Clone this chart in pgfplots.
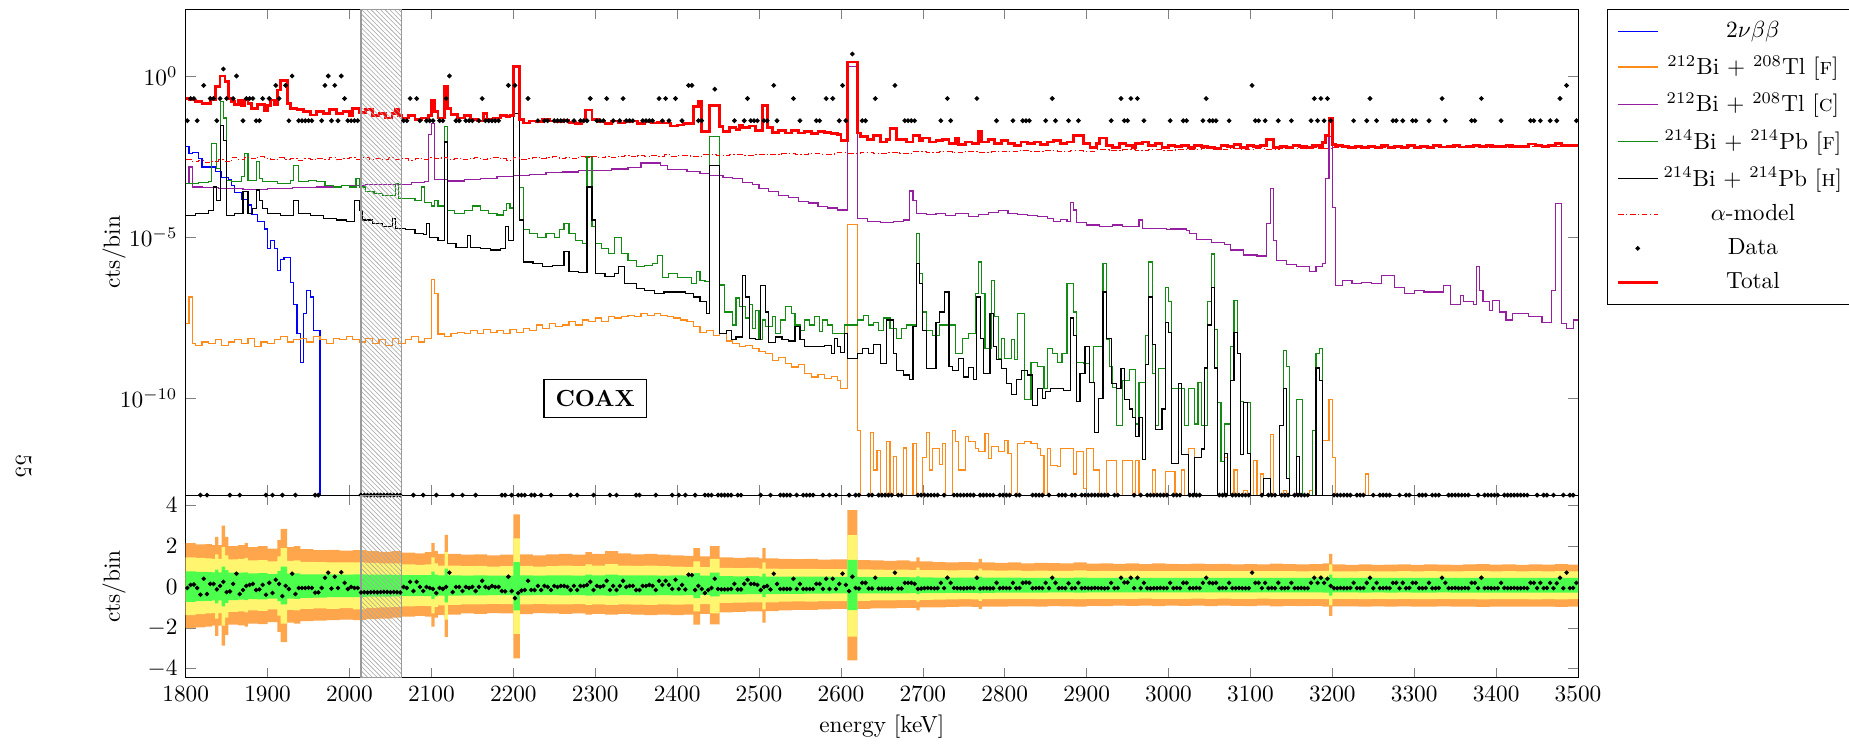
\documentclass[border=0pt]{standalone}
\usepackage{pgfplots}
\usepackage{pgfplotstable}
\pgfplotsset{compat=1.18}
\usetikzlibrary{patterns}
\definecolor{cblue}{RGB}{0,0,255}
\definecolor{corange}{RGB}{255,140,26}
\definecolor{cpurple}{RGB}{150,30,160}
\definecolor{cgreen}{RGB}{20,140,20}
\definecolor{bandO}{RGB}{255,166,77}
\definecolor{bandY}{RGB}{255,245,110}
\definecolor{bandG}{RGB}{77,255,77}
\pgfdeclarepatternformonly{densenw}{\pgfqpoint{-1pt}{-1pt}}{\pgfqpoint{3pt}{3pt}}{\pgfqpoint{2pt}{2pt}}{%
  \pgfsetlinewidth{0.25pt}%
  \pgfpathmoveto{\pgfqpoint{0pt}{2pt}}%
  \pgfpathlineto{\pgfqpoint{2.1pt}{-0.1pt}}%
  \pgfusepath{stroke}}

\pgfplotstableread[row sep=\\]{
x d r\\
1802 .041 -.05\\1806 .2 .1\\1810 .2 .12\\1814 .041 -.05\\1818 1e-13 -.38\\1822 .51 .4\\1826 1e-13 -.35\\1830 .2 .15\\1834 .2 .15\\1838 .041 -.12\\1842 .2 .05\\1846 1.65 .25\\1850 .2 -.25\\1854 1e-13 -.22\\1858 .2 .15\\1862 1 .65\\1866 1e-13 -.35\\1870 .041 -.15\\1874 .2 .05\\1878 .2 .1\\1882 .2 .15\\1886 .041 -.15\\1890 .041 -.12\\1894 .2 .1\\1898 1e-13 -.38\\
1902 .2 .2\\1906 1e-13 -.3\\1910 .51 .35\\1914 .2 .15\\1918 1e-13 -.45\\1922 .51 .05\\1926 .041 -.1\\1930 1 .65\\1934 1e-13 -.35\\1938 .041 -.05\\1942 .041 -.05\\1946 .041 -.05\\1950 .041 -.04\\1954 .041 -.05\\1958 1e-13 -.28\\1962 1e-13 -.27\\1966 .041 -.05\\1970 .51 .45\\1974 1 .7\\1978 .041 -.08\\1982 .51 .5\\1986 .041 -.05\\1990 1 .72\\1994 .2 .2\\1998 .041 -.1\\
2002 .041 0\\2006 .041 -.05\\2010 .041 -.05\\2014 1e-13 -.27\\2018 1e-13 -.26\\2022 1e-13 -.27\\2026 1e-13 -.26\\2030 1e-13 -.25\\2034 1e-13 -.26\\2038 1e-13 -.25\\2042 1e-13 -.24\\2046 1e-13 -.25\\2050 1e-13 -.26\\2054 1e-13 -.25\\2058 1e-13 -.26\\2062 1e-13 -.27\\2066 .041 0\\2070 .041 -.05\\2074 .2 .25\\2078 1e-13 -.2\\2082 .2 .25\\2086 .041 0\\2090 1e-13 -.2\\2094 .041 0\\2098 .041 -.05\\
2102 .041 -.1\\2106 1e-13 -.3\\2110 .041 -.05\\2114 .041 -.1\\2118 .2 0\\2122 1 .7\\2126 1e-13 -.25\\2130 .041 0\\2134 .041 0\\2138 1e-13 -.2\\2142 .041 0\\2146 .041 -.05\\2150 .041 0\\2154 1e-13 -.2\\2158 .041 0\\2162 .2 .3\\2166 .041 0\\2170 .041 -.05\\2174 .041 .05\\2178 .041 0\\2182 .041 0\\2186 1e-13 -.2\\2190 1e-13 -.22\\2194 .51 .5\\2198 1e-13 -.2\\
2202 .51 -.55\\2206 1e-13 -.3\\2210 1e-13 -.18\\2214 1e-13 -.15\\2218 .2 .3\\2222 1e-13 -.15\\2226 1e-13 -.15\\2230 .041 .05\\2234 1e-13 -.15\\2238 .041 .05\\2242 .041 0\\2246 1e-13 -.15\\2250 .041 .05\\2254 .041 0\\2258 .041 .05\\2262 .041 .05\\2266 .041 0\\2270 1e-13 -.15\\2274 .041 .05\\2278 1e-13 -.15\\2282 .041 .05\\2286 .041 .05\\2290 .041 .1\\2294 .2 .25\\2298 1e-13 -.15\\
2302 .041 .05\\2306 .041 0\\2310 .041 .05\\2314 .2 .3\\2318 1e-13 -.15\\2322 .041 .05\\2326 1e-13 -.15\\2330 .041 .05\\2334 .2 .3\\2338 .041 0\\2342 .041 .05\\2346 .041 .05\\2350 1e-13 -.15\\2354 1e-13 -.15\\2358 .041 .05\\2362 .041 .05\\2366 .041 .1\\2370 .041 .05\\2374 1e-13 -.15\\2378 .2 .3\\2382 .041 .1\\2386 .2 .3\\2390 .041 .1\\2394 1e-13 -.1\\2398 .2 .35\\
2402 1e-13 -.1\\2406 .041 .1\\2410 1e-13 -.12\\2414 .51 .6\\2418 .51 .58\\2422 1e-13 -.15\\2426 .041 .05\\2430 .041 -.1\\2434 1e-13 -.3\\2438 1e-13 -.15\\2442 1e-13 -.05\\2446 .39 .4\\2450 1e-13 -.1\\2454 1e-13 -.12\\2458 1e-13 -.12\\2462 1e-13 -.12\\2466 1e-13 -.1\\2470 .041 .15\\2474 1e-13 -.12\\2478 1e-13 -.12\\2482 .041 .15\\2486 .2 .35\\2490 .041 .15\\2494 .041 .15\\2498 .041 .1\\
2502 1e-13 -.15\\2506 .041 0\\2510 .041 .05\\2514 1e-13 -.12\\2518 .51 .65\\2522 .041 .15\\2526 1e-13 -.1\\2530 1e-13 -.1\\2534 1e-13 -.1\\2538 1e-13 -.1\\2542 .2 .4\\2546 1e-13 -.1\\2550 .041 .15\\2554 1e-13 -.1\\2558 1e-13 -.1\\2562 1e-13 -.1\\2566 1e-13 -.1\\2570 .041 .15\\2574 .041 .15\\2578 1e-13 -.1\\2582 .2 .4\\2586 1e-13 -.1\\2590 .2 .4\\2594 1e-13 -.1\\2598 .041 .15\\
2602 .51 .65\\2606 .041 .1\\2610 1e-13 -.2\\2614 4.8 .5\\2618 1e-13 -.05\\2622 1e-13 -.08\\2626 .041 .2\\2630 .041 .2\\2634 1e-13 -.08\\2638 1e-13 -.08\\2642 .2 .45\\2646 1e-13 -.08\\2650 1e-13 -.08\\2654 1e-13 -.08\\2658 1e-13 -.08\\2662 1e-13 -.08\\2666 .51 .7\\2670 1e-13 -.08\\2674 1e-13 -.08\\2678 .041 .2\\2682 .041 .2\\2686 .041 .2\\2690 .041 .15\\2694 1e-13 -.1\\2698 1e-13 -.08\\
2702 1e-13 -.06\\2706 1e-13 -.05\\2710 1e-13 -.06\\2714 1e-13 -.07\\2718 1e-13 -.06\\2722 .041 .2\\2726 1e-13 -.06\\2730 .2 .45\\2734 .041 .2\\2738 1e-13 -.05\\2742 1e-13 -.06\\2746 1e-13 -.06\\2750 1e-13 -.07\\2754 1e-13 -.06\\2758 1e-13 -.05\\2762 1e-13 -.06\\2766 .2 .45\\2770 1e-13 -.08\\2774 1e-13 -.06\\2778 1e-13 -.06\\2782 1e-13 -.07\\2786 1e-13 -.06\\2790 .041 .2\\2794 1e-13 -.06\\2798 1e-13 -.05\\
2802 1e-13 -.06\\2806 1e-13 -.06\\2810 .041 .2\\2814 1e-13 -.06\\2818 1e-13 -.05\\2822 .041 .2\\2826 .041 .22\\2830 .041 .2\\2834 1e-13 -.06\\2838 1e-13 -.06\\2842 1e-13 -.05\\2846 1e-13 -.06\\2850 .041 .2\\2854 1e-13 -.06\\2858 .2 .45\\2862 .041 .2\\2866 1e-13 -.06\\2870 1e-13 -.05\\2874 1e-13 -.06\\2878 .041 .18\\2882 1e-13 -.07\\2886 1e-13 -.06\\2890 .041 .2\\2894 1e-13 -.06\\2898 1e-13 -.05\\
2902 1e-13 -.06\\2906 1e-13 -.06\\2910 1e-13 -.05\\2914 1e-13 -.06\\2918 1e-13 -.06\\2922 1e-13 -.07\\2926 1e-13 -.06\\2930 .041 .2\\2934 1e-13 -.06\\2938 1e-13 -.05\\2942 .2 .45\\2946 .041 .22\\2950 .041 .22\\2954 .2 .45\\2958 1e-13 -.06\\2962 .2 .45\\2966 1e-13 -.06\\2970 .041 .2\\2974 1e-13 -.06\\2978 1e-13 -.07\\2982 1e-13 -.06\\2986 1e-13 -.06\\2990 1e-13 -.05\\2994 1e-13 -.06\\2998 1e-13 -.06\\
3002 .041 .2\\3006 1e-13 -.06\\3010 1e-13 -.05\\3014 1e-13 -.06\\3018 .041 .2\\3022 .041 .2\\3026 1e-13 -.06\\3030 1e-13 -.06\\3034 1e-13 -.05\\3038 1e-13 -.06\\3042 .041 .2\\3046 .2 .45\\3050 .041 .2\\3054 .041 .18\\3058 .041 .2\\3062 1e-13 -.06\\3066 1e-13 -.05\\3070 1e-13 -.06\\3074 .041 .2\\3078 1e-13 -.06\\3082 1e-13 -.06\\3086 1e-13 -.05\\3090 1e-13 -.06\\3094 1e-13 -.06\\3098 1e-13 -.06\\
3102 .51 .7\\3106 .041 .2\\3110 .041 .2\\3114 1e-13 -.06\\3118 .041 .2\\3122 1e-13 -.06\\3126 1e-13 -.05\\3130 1e-13 -.06\\3134 .041 .2\\3138 1e-13 -.06\\3142 1e-13 -.06\\3146 1e-13 -.05\\3150 .041 .2\\3154 1e-13 -.06\\3158 1e-13 -.06\\3162 1e-13 -.05\\3166 1e-13 -.06\\3170 1e-13 -.06\\3174 .041 .2\\3178 .2 .45\\3182 .041 .2\\3186 .2 .45\\3190 .041 .2\\3194 .2 .4\\3198 .041 .05\\
3202 1e-13 -.06\\3206 1e-13 -.06\\3210 1e-13 -.05\\3214 1e-13 -.06\\3218 1e-13 -.06\\3222 1e-13 -.05\\3226 .041 .2\\3230 1e-13 -.06\\3234 1e-13 -.06\\3238 1e-13 -.05\\3242 .041 .2\\3246 .2 .45\\3250 1e-13 -.06\\3254 .041 .2\\3258 1e-13 -.06\\3262 1e-13 -.06\\3266 1e-13 -.05\\3270 1e-13 -.06\\3274 .041 .2\\3278 .041 .2\\3282 1e-13 -.06\\3286 .041 .2\\3290 1e-13 -.06\\3294 1e-13 -.05\\3298 .041 .2\\
3302 .041 .2\\3306 1e-13 -.06\\3310 1e-13 -.06\\3314 1e-13 -.05\\3318 .041 .2\\3322 1e-13 -.06\\3326 1e-13 -.06\\3330 1e-13 -.05\\3334 .2 .45\\3338 .041 .2\\3342 1e-13 -.06\\3346 1e-13 -.06\\3350 1e-13 -.05\\3354 1e-13 -.06\\3358 1e-13 -.06\\3362 1e-13 -.05\\3366 1e-13 -.06\\3370 .041 .2\\3374 .041 .2\\3378 1e-13 -.06\\3382 .2 .45\\3386 1e-13 -.06\\3390 1e-13 -.05\\3394 1e-13 -.06\\3398 1e-13 -.06\\
3402 1e-13 -.06\\3406 .041 .2\\3410 1e-13 -.05\\3414 1e-13 -.06\\3418 1e-13 -.06\\3422 1e-13 -.05\\3426 1e-13 -.06\\3430 1e-13 -.06\\3434 1e-13 -.05\\3438 1e-13 -.06\\3442 .041 .2\\3446 .041 .2\\3450 1e-13 -.06\\3454 .041 .2\\3458 1e-13 -.06\\3462 1e-13 -.05\\3466 .041 .2\\3470 1e-13 -.06\\3474 .041 .18\\3478 .2 .45\\3482 1e-13 -.06\\3486 .51 .7\\3490 1e-13 -.06\\3494 1e-13 -.05\\3498 .041 .2\\
}\data

\pgfplotstableread[row sep=\\]{
x ou ol yu yl gu gl\\
1800 2.15 -2.02 1.45 -1.38 0.76 -0.73\\1812 2.08 -1.98 1.42 -1.33 0.74 -0.7\\1824 2.1 -1.95 1.4 -1.3 0.73 -0.68\\1832 2.05 -1.9 1.38 -1.28 0.72 -0.66\\1836 2.45 -2.4 1.6 -1.55 0.85 -0.8\\1840 2.05 -1.9 1.38 -1.28 0.72 -0.66\\1844 3.0 -2.88 1.95 -1.9 1.0 -0.95\\1848 2.45 -2.35 1.55 -1.5 0.82 -0.78\\1852 2.0 -1.85 1.35 -1.22 0.7 -0.64\\1864 2.05 -1.88 1.37 -1.2 0.7 -0.62\\1872 2.15 -1.95 1.42 -1.25 0.72 -0.65\\1876 1.95 -1.8 1.3 -1.15 0.67 -0.6\\1888 2.0 -1.82 1.32 -1.17 0.68 -0.61\\1900 1.88 -1.72 1.25 -1.1 0.63 -0.57\\1912 2.3 -2.2 1.5 -1.4 0.78 -0.7\\1916 2.85 -2.7 1.9 -1.8 1.0 -0.85\\1924 1.95 -1.75 1.28 -1.12 0.65 -0.57\\1932 2.0 -1.8 1.3 -1.15 0.66 -0.58\\1940 1.85 -1.68 1.23 -1.08 0.62 -0.54\\1956 1.8 -1.65 1.22 -1.05 0.61 -0.52\\1972 1.82 -1.62 1.2 -1.07 0.62 -0.5\\1988 1.78 -1.6 1.2 -1.04 0.6 -0.5\\
2004 1.8 -1.62 1.21 -1.1 0.62 -0.5\\2020 1.75 -1.58 1.18 -1.02 0.6 -0.48\\2036 1.72 -1.55 1.15 -1.0 0.6 -0.47\\2052 1.76 -1.5 1.15 -0.98 0.59 -0.46\\2064 1.68 -1.45 1.1 -0.95 0.58 -0.45\\2080 1.65 -1.42 1.08 -0.93 0.58 -0.44\\2092 1.7 -1.45 1.1 -0.94 0.58 -0.45\\2100 2.15 -1.95 1.45 -1.3 0.75 -0.6\\2104 1.75 -1.5 1.15 -0.98 0.6 -0.46\\2108 1.62 -1.38 1.05 -0.9 0.57 -0.43\\2116 2.55 -2.45 1.7 -1.6 0.9 -0.75\\2120 1.62 -1.35 1.05 -0.88 0.57 -0.42\\2136 1.58 -1.3 1.02 -0.85 0.56 -0.41\\2152 1.6 -1.32 1.03 -0.86 0.57 -0.41\\2168 1.55 -1.28 1.0 -0.83 0.56 -0.4\\2184 1.58 -1.3 1.02 -0.84 0.56 -0.4\\2200 3.55 -3.5 2.38 -2.3 1.22 -1.15\\2208 1.6 -1.33 1.03 -0.86 0.57 -0.41\\2224 1.55 -1.28 1.0 -0.83 0.56 -0.4\\2240 1.6 -1.3 1.02 -0.85 0.57 -0.4\\2256 1.62 -1.32 1.05 -0.86 0.57 -0.41\\2272 1.58 -1.3 1.02 -0.84 0.56 -0.4\\2288 1.7 -1.35 1.1 -0.88 0.6 -0.42\\2296 1.62 -1.32 1.05 -0.86 0.57 -0.41\\2312 1.75 -1.35 1.12 -0.88 0.6 -0.42\\2328 1.65 -1.32 1.05 -0.86 0.57 -0.4\\2344 1.6 -1.35 1.03 -0.87 0.57 -0.41\\2360 1.62 -1.38 1.05 -0.88 0.57 -0.41\\2376 1.58 -1.35 1.02 -0.86 0.56 -0.4\\2392 1.55 -1.38 1.0 -0.87 0.57 -0.41\\
2408 1.52 -1.35 0.98 -0.85 0.56 -0.4\\2420 1.9 -1.85 1.25 -1.2 0.68 -0.55\\2428 1.5 -1.32 0.97 -0.84 0.55 -0.39\\2440 2.0 -1.83 1.38 -1.3 0.7 -0.46\\2452 1.45 -1.25 0.93 -0.78 0.53 -0.36\\2468 1.42 -1.22 0.92 -0.77 0.52 -0.36\\2484 1.45 -1.2 0.93 -0.76 0.53 -0.35\\2500 1.4 -1.2 0.9 -0.75 0.51 -0.35\\2504 1.9 -1.75 1.2 -1.1 0.65 -0.5\\2508 1.4 -1.18 0.9 -0.75 0.51 -0.35\\2524 1.38 -1.15 0.88 -0.72 0.5 -0.34\\2540 1.36 -1.12 0.88 -0.71 0.5 -0.34\\2556 1.38 -1.12 0.89 -0.72 0.5 -0.33\\2572 1.34 -1.1 0.87 -0.7 0.5 -0.33\\2588 1.35 -1.08 0.87 -0.69 0.49 -0.32\\2608 3.77 -3.6 2.54 -2.43 1.33 -1.13\\2620 1.32 -1.08 0.86 -0.68 0.49 -0.32\\2636 1.3 -1.05 0.85 -0.66 0.48 -0.31\\2652 1.28 -1.05 0.84 -0.66 0.48 -0.31\\2668 1.3 -1.02 0.85 -0.64 0.48 -0.31\\2684 1.25 -1.02 0.83 -0.63 0.47 -0.3\\2692 1.45 -1.15 0.95 -0.72 0.52 -0.35\\2696 1.25 -1.0 0.83 -0.63 0.47 -0.3\\
2712 1.22 -1.0 0.82 -0.62 0.46 -0.3\\2728 1.2 -0.98 0.81 -0.61 0.46 -0.29\\2744 1.22 -0.97 0.82 -0.6 0.46 -0.29\\2760 1.2 -0.98 0.81 -0.61 0.46 -0.29\\2768 1.38 -1.08 0.9 -0.68 0.5 -0.32\\2772 1.2 -0.97 0.81 -0.6 0.46 -0.29\\2788 1.18 -0.96 0.8 -0.6 0.46 -0.28\\2804 1.2 -0.95 0.81 -0.59 0.46 -0.28\\2820 1.16 -0.95 0.79 -0.59 0.45 -0.28\\2836 1.18 -0.96 0.8 -0.6 0.45 -0.28\\2852 1.17 -0.94 0.79 -0.59 0.45 -0.27\\2868 1.15 -0.95 0.79 -0.59 0.45 -0.27\\2884 1.2 -0.97 0.81 -0.6 0.46 -0.28\\2900 1.14 -0.93 0.78 -0.58 0.45 -0.27\\2916 1.16 -0.94 0.79 -0.58 0.45 -0.27\\2932 1.13 -0.92 0.78 -0.58 0.45 -0.26\\2948 1.15 -0.93 0.79 -0.58 0.45 -0.27\\2964 1.12 -0.92 0.78 -0.57 0.44 -0.26\\2980 1.15 -0.94 0.78 -0.58 0.45 -0.27\\2996 1.13 -0.92 0.78 -0.58 0.45 -0.26\\
3012 1.12 -0.93 0.77 -0.58 0.44 -0.26\\3028 1.14 -0.92 0.78 -0.57 0.45 -0.26\\3044 1.12 -0.94 0.77 -0.58 0.44 -0.27\\3060 1.13 -0.92 0.78 -0.57 0.45 -0.26\\3076 1.1 -0.93 0.77 -0.58 0.44 -0.26\\3092 1.12 -0.94 0.77 -0.58 0.44 -0.27\\3108 1.11 -0.92 0.77 -0.57 0.44 -0.26\\3124 1.14 -0.95 0.78 -0.59 0.45 -0.27\\3140 1.12 -0.93 0.77 -0.58 0.44 -0.26\\3156 1.1 -0.94 0.76 -0.58 0.44 -0.27\\3172 1.12 -0.93 0.77 -0.58 0.44 -0.26\\3188 1.15 -0.97 0.79 -0.6 0.45 -0.28\\3196 1.62 -1.42 1.1 -0.9 0.6 -0.42\\3200 1.1 -0.95 0.76 -0.59 0.44 -0.27\\3216 1.08 -0.95 0.76 -0.59 0.44 -0.27\\3232 1.1 -0.96 0.77 -0.6 0.44 -0.28\\3248 1.08 -0.95 0.76 -0.59 0.44 -0.27\\3264 1.09 -0.96 0.76 -0.6 0.44 -0.28\\3280 1.1 -0.95 0.77 -0.59 0.44 -0.27\\3296 1.08 -0.97 0.76 -0.6 0.44 -0.28\\3312 1.1 -0.96 0.77 -0.6 0.44 -0.28\\3328 1.09 -0.95 0.76 -0.59 0.44 -0.27\\3344 1.08 -0.97 0.76 -0.6 0.44 -0.28\\3360 1.1 -0.96 0.77 -0.6 0.44 -0.28\\3376 1.12 -0.98 0.78 -0.61 0.45 -0.28\\3392 1.09 -0.96 0.76 -0.6 0.44 -0.28\\3408 1.1 -0.97 0.77 -0.6 0.44 -0.28\\3424 1.08 -0.96 0.76 -0.6 0.44 -0.28\\3440 1.11 -0.97 0.77 -0.61 0.44 -0.28\\3456 1.09 -0.96 0.76 -0.6 0.44 -0.28\\3472 1.12 -0.98 0.78 -0.61 0.45 -0.28\\3488 1.09 -0.97 0.76 -0.6 0.44 -0.28\\3500 1.09 -0.97 0.76 -0.6 0.44 -0.28\\
}\band

\begin{document}
\begin{tikzpicture}
\path[use as bounding box] (-79.7pt,-106.4pt) rectangle (713.9pt,212.5pt);
\begin{axis}[
  at={(0,0)}, anchor=south west,
  width=597.6pt, height=208.5pt, scale only axis,
  xmin=1800, xmax=3500, ymode=log, ymin=1e-13, ymax=117,
  xtick={1800,1900,...,3500}, xticklabels={},
  ytick={1e-10,1e-5,1}, yminorticks=false,
  ylabel={cts/bin},
  ylabel style={at={(axis description cs:-0.0514,0.5)}, anchor=center},
  every axis plot/.append style={line width=0.5pt},
  legend style={at={(1,1)}, anchor=north west, xshift=12.3pt, draw=black, row sep=2.3pt, inner xsep=4pt, inner ysep=3pt},
  legend cell align=center,
]
% 2nu bb
\addplot[cblue, const plot] coordinates {(1800,6.5e-3)(1804,4e-3)(1808,4.2e-3)(1816,2.7e-3)(1820,1.5e-3)(1836,1.1e-3)(1844,7e-4)(1852,6e-4)(1856,4e-4)(1860,2.5e-4)(1868,1.5e-4)(1876,1e-4)(1880,5e-5)(1888,3e-5)(1896,1.8e-5)(1900,4.5e-6)(1904,8e-6)(1908,4.5e-6)(1912,9e-7)(1916,2e-6)(1920,2.4e-6)(1928,4e-7)(1932,8e-8)(1936,1e-8)(1940,1.3e-9)(1944,4.3e-8)(1948,2.2e-7)(1952,1.4e-7)(1956,1.3e-8)(1964,1e-13)(3500,1e-13)};
\addlegendentry{$2\nu\beta\beta$}
% 212Bi+208Tl F
\addplot[corange, const plot] coordinates {(1800,2.1e-8)(1804,1.4e-7)(1808,5e-9)(1812,4.5e-9)(1820,5.6e-9)(1828,5e-9)(1836,6.6e-9)(1844,4.5e-9)(1852,5.6e-9)(1860,6.6e-9)(1868,5e-9)(1876,7.3e-9)(1884,4e-9)(1892,5.6e-9)(1900,5e-9)(1908,6.6e-9)(1916,8.4e-9)(1924,5.6e-9)(1932,6.6e-9)(1940,7.3e-9)(1948,5.6e-9)(1956,8.4e-9)(1964,6.6e-9)(1972,5e-9)(1980,7.3e-9)(1988,6.6e-9)(1996,8.4e-9)(2004,6.6e-9)(2012,5.6e-9)(2020,7.3e-9)(2028,5e-9)(2036,6.6e-9)(2044,4.5e-9)(2052,7.3e-9)(2060,5e-9)(2068,6.6e-9)(2076,8.4e-9)(2084,5.6e-9)(2092,7.3e-9)(2100,4.9e-7)(2104,1.8e-7)(2108,9.9e-9)(2116,8.4e-9)(2124,1e-8)(2132,1.1e-8)(2140,1e-8)(2148,1.3e-8)(2156,1e-8)(2164,1.4e-8)(2172,1.1e-8)(2180,1.3e-8)(2188,1e-8)(2196,1.4e-8)(2204,1.1e-8)(2212,1.5e-8)(2220,1.3e-8)(2228,1.9e-8)(2236,1.5e-8)(2244,2.1e-8)(2252,1.7e-8)(2260,1.9e-8)(2268,2.4e-8)(2276,1.9e-8)(2284,2.7e-8)(2292,2.4e-8)(2300,3.1e-8)(2308,2.4e-8)(2316,3.4e-8)(2324,3.1e-8)(2332,3.4e-8)(2340,3.8e-8)(2348,3.4e-8)(2356,4.4e-8)(2364,3.8e-8)(2372,4.4e-8)(2380,3.8e-8)(2388,3.4e-8)(2396,3.1e-8)(2404,2.7e-8)(2412,2.4e-8)(2420,1.7e-8)(2428,1.1e-8)(2436,1.3e-8)(2444,9e-9)(2452,1e-8)(2460,6e-9)(2468,5e-9)(2476,4e-9)(2484,4.5e-9)(2492,3.5e-9)(2500,2.8e-9)(2508,2.4e-9)(2516,1.5e-9)(2524,1.8e-9)(2532,1.2e-9)(2540,9.4e-10)(2548,1.1e-9)(2556,6e-10)(2564,4.6e-10)(2572,5.5e-10)(2580,4.2e-10)(2588,4.8e-10)(2596,3.5e-10)(2600,2e-10)(2608,2.5e-5)(2620,1e-11)(2624,1e-13)(2636,9e-12)(2640,6e-13)(2644,2.4e-12)(2648,1e-13)(2656,4.5e-12)(2660,1e-13)(2664,1.6e-12)(2668,1e-13)(2676,2.9e-12)(2680,1e-13)(2688,3.9e-12)(2692,1e-13)(2700,1.5e-12)(2704,9e-12)(2708,6e-13)(2712,2.8e-12)(2720,9e-13)(2724,4e-12)(2728,1e-13)(2736,1e-11)(2740,4.5e-12)(2744,6e-13)(2752,6.5e-12)(2756,4.5e-12)(2764,2.8e-12)(2768,2.2e-12)(2776,8e-12)(2780,1.4e-12)(2784,3.2e-12)(2792,2.2e-12)(2800,5e-12)(2804,2e-12)(2808,1e-13)(2816,4e-12)(2824,4.5e-12)(2832,4e-12)(2840,2.8e-12)(2844,1.7e-12)(2848,1e-13)(2852,2.8e-12)(2856,8.5e-13)(2864,7.5e-13)(2868,2.8e-12)(2876,2.8e-12)(2884,4.5e-13)(2888,2.2e-12)(2896,1.6e-13)(2900,2.8e-12)(2908,6e-13)(2916,1e-13)(2924,1.2e-12)(2936,1e-13)(2944,1.2e-12)(2956,1e-13)(2960,1.2e-12)(2964,1e-13)(2980,6e-13)(2984,1e-13)(2996,5.5e-13)(3008,1e-13)(3016,6e-13)(3020,1e-13)(3024,2.8e-12)(3032,1e-13)(3068,1.5e-12)(3072,1e-13)(3080,6e-13)(3084,1e-13)(3092,1.4e-13)(3096,1e-13)(3104,1.2e-12)(3108,1e-13)(3112,4.5e-13)(3116,1e-13)(3124,7.5e-12)(3128,1e-13)(3140,1.4e-13)(3144,1e-13)(3172,1.4e-13)(3176,1e-13)(3188,5e-12)(3196,9.3e-11)(3200,1.5e-12)(3204,1e-13)(3240,4.5e-13)(3244,1e-13)(3500,1e-13)};
\addlegendentry{$^{212}$Bi + $^{208}$Tl [\textsc{f}]}
% 212Bi+208Tl C
\addplot[cpurple, const plot] coordinates {(1800,4.6e-4)(1804,1.5e-3)(1808,3.6e-4)(1820,3.4e-4)(1840,3.2e-4)(1870,3.1e-4)(1900,3.2e-4)(1930,3.5e-4)(1960,3.6e-4)(1990,3.9e-4)(2020,4.2e-4)(2050,4.4e-4)(2076,4.9e-4)(2092,5.2e-4)(2096,1.5e-2)(2100,3.4e-2)(2104,6e-4)(2120,5.5e-4)(2140,6.2e-4)(2160,6.8e-4)(2180,7.5e-4)(2200,8.4e-4)(2220,9e-4)(2240,1e-3)(2260,1.05e-3)(2280,1.15e-3)(2300,1.2e-3)(2320,1.3e-3)(2340,1.45e-3)(2356,2e-3)(2380,1.7e-3)(2388,1.25e-3)(2412,1.1e-3)(2428,9.5e-4)(2440,8.4e-4)(2456,7.2e-4)(2468,6.5e-4)(2480,5e-4)(2492,4.2e-4)(2500,3.3e-4)(2512,2.6e-4)(2524,2e-4)(2536,1.7e-4)(2548,1.3e-4)(2560,1.15e-4)(2572,9e-5)(2584,8e-5)(2596,7e-5)(2608,2)(2620,3.8e-5)(2632,3e-5)(2648,2.8e-5)(2664,3e-5)(2676,3.4e-5)(2684,2.7e-4)(2688,1.4e-4)(2692,5.4e-5)(2704,5e-5)(2716,5.4e-5)(2728,4.6e-5)(2740,5.4e-5)(2756,4.5e-5)(2768,5e-5)(2780,5.8e-5)(2792,6.6e-5)(2804,5.4e-5)(2816,5e-5)(2828,4.6e-5)(2840,4.3e-5)(2852,3.8e-5)(2860,3.1e-5)(2868,3.5e-5)(2876,3e-5)(2880,1.2e-4)(2884,7e-5)(2888,2.9e-5)(2900,2.4e-5)(2916,2.2e-5)(2932,2.4e-5)(2944,2.1e-5)(2956,2.2e-5)(2964,3.4e-5)(2968,1.9e-5)(2998,1.7e-5)(3002,1.8e-5)(3022,1.6e-5)(3026,1.3e-5)(3034,8.5e-6)(3052,7e-6)(3068,6e-6)(3076,4e-6)(3092,2.8e-6)(3108,2.6e-6)(3120,2.7e-5)(3124,3.2e-4)(3128,8e-6)(3132,1.9e-6)(3144,1.4e-6)(3156,1.2e-6)(3172,8.7e-7)(3180,1.2e-6)(3188,1.5e-6)(3192,6.7e-4)(3196,1.3e-2)(3200,8.4e-5)(3204,3.2e-7)(3212,4.5e-7)(3224,3.6e-7)(3236,4e-7)(3248,3.6e-7)(3260,6.6e-7)(3276,2.8e-7)(3288,1.8e-7)(3300,2.2e-7)(3312,2e-7)(3336,3.2e-7)(3344,8e-8)(3356,1.6e-7)(3360,9.9e-8)(3372,8e-8)(3376,1.2e-6)(3380,2.2e-7)(3384,1e-7)(3392,5.4e-8)(3396,1.1e-7)(3404,4.8e-8)(3412,2.7e-8)(3420,4.4e-8)(3440,3.4e-8)(3456,2.3e-8)(3468,2.2e-7)(3472,1.1e-4)(3480,2.1e-8)(3486,1.5e-8)(3494,2.7e-8)(3500,2.7e-8)};
\addlegendentry{$^{212}$Bi + $^{208}$Tl [\textsc{c}]}
% 214Bi+214Pb F
\addplot[cgreen, const plot] coordinates {(1800,4.7e-4)(1816,4.9e-4)(1828,5.3e-4)(1832,8.1e-3)(1838,1.35e-3)(1842,0.16)(1846,0.05)(1850,5.9e-4)(1856,5.3e-4)(1868,7.5e-4)(1872,4e-3)(1876,5.9e-4)(1886,2.2e-3)(1890,6.5e-4)(1894,5.3e-4)(1912,4.6e-4)(1928,5.9e-4)(1932,1.7e-3)(1938,5.3e-4)(1950,5.9e-4)(1960,5.3e-4)(1970,4e-4)(1980,3.6e-4)(1990,4e-4)(2000,3.6e-4)(2008,6.5e-4)(2012,3.6e-4)(2020,2.6e-4)(2030,2.3e-4)(2040,2e-4)(2056,4.6e-4)(2060,1.6e-4)(2080,1.4e-4)(2088,3.6e-4)(2092,1.2e-4)(2100,9.3e-5)(2104,1.4e-4)(2108,9.3e-5)(2116,2.7e-2)(2120,6.9e-5)(2128,5.5e-5)(2140,6.9e-5)(2150,9.3e-5)(2160,6.9e-5)(2170,5.5e-5)(2180,4.9e-5)(2188,6.9e-5)(2192,1.1e-4)(2196,8e-5)(2200,6.9e-2)(2208,3.4e-4)(2212,1.7e-5)(2220,1.3e-5)(2230,1e-5)(2240,1.3e-5)(2250,1e-5)(2256,1.7e-5)(2262,2.7e-5)(2268,1.3e-5)(2276,8e-6)(2284,6.4e-6)(2290,3.1e-3)(2296,2.1e-5)(2300,6.4e-6)(2308,4.4e-6)(2316,3.1e-6)(2324,1e-5)(2332,3.1e-6)(2340,1.9e-6)(2350,1.2e-6)(2360,1.3e-6)(2370,1.5e-6)(2376,2.7e-6)(2382,5.7e-7)(2390,7.4e-7)(2400,5.7e-7)(2410,5.7e-7)(2418,3.6e-7)(2424,8.7e-7)(2428,4.6e-7)(2434,4.1e-7)(2440,1.3e-2)(2452,3.3e-7)(2458,4.8e-8)(2468,1.9e-8)(2472,1.3e-7)(2476,7.2e-8)(2484,3.1e-8)(2488,8e-8)(2492,1.5e-8)(2496,5.4e-8)(2500,6.6e-9)(2504,2.7e-8)(2508,1.7e-8)(2516,3.4e-8)(2520,1e-8)(2526,2.7e-8)(2532,7.2e-8)(2540,4.4e-8)(2544,1.9e-8)(2550,1.3e-8)(2556,2.7e-8)(2562,1.9e-8)(2568,3.4e-8)(2574,1.2e-8)(2578,2.7e-8)(2584,1.9e-8)(2590,1e-8)(2604,1.9e-8)(2620,2.7e-8)(2628,3.8e-8)(2634,1.9e-8)(2640,2.3e-8)(2646,1.3e-8)(2652,3.1e-8)(2660,1.5e-8)(2668,7.3e-9)(2674,1.5e-8)(2680,1.9e-8)(2692,1.3e-5)(2696,7.4e-7)(2700,4.8e-8)(2704,1.3e-8)(2712,9e-9)(2720,1.9e-8)(2740,2.4e-9)(2748,7.3e-9)(2756,1e-8)(2764,1.8e-7)(2768,1.7e-6)(2772,1.8e-7)(2776,3.5e-9)(2784,4.6e-7)(2788,3.4e-8)(2792,1.7e-9)(2796,7.3e-9)(2800,1.7e-9)(2808,6.6e-9)(2812,1.6e-9)(2816,4.4e-8)(2824,9.3e-11)(2832,1.3e-9)(2840,9.5e-10)(2848,2e-10)(2852,3.5e-9)(2858,2.4e-9)(2864,1.3e-9)(2870,2.4e-9)(2876,3.6e-7)(2884,4.8e-8)(2888,1.3e-9)(2896,1.2e-9)(2904,3.2e-10)(2908,4e-9)(2920,1.5e-6)(2924,6.6e-9)(2928,9.5e-10)(2932,2.2e-10)(2936,1.4e-11)(2944,3.5e-10)(2952,8e-10)(2960,1.6e-11)(2964,3.2e-10)(2972,9e-9)(2976,1.7e-6)(2980,6e-10)(2984,1.4e-11)(2988,8.4e-10)(2996,2.7e-7)(3000,9.9e-8)(3004,2e-10)(3020,1.4e-11)(3024,2e-10)(3032,1.6e-11)(3036,3.2e-10)(3040,1.4e-11)(3048,9.9e-8)(3052,3e-6)(3056,1.4e-8)(3060,7.3e-11)(3064,1.1e-12)(3068,1.6e-11)(3076,4e-9)(3080,1.1e-7)(3084,2.4e-9)(3088,7.9e-11)(3092,7.3e-11)(3100,1e-13)(3136,1.4e-11)(3140,3.1e-9)(3144,9.5e-10)(3148,1e-13)(3156,9.3e-11)(3164,1e-13)(3176,1e-11)(3180,2.4e-9)(3184,3.6e-9)(3188,1e-13)(3500,1e-13)};
\addlegendentry{$^{214}$Bi + $^{214}$Pb [\textsc{f}]}
% 214Bi+214Pb H
\addplot[black, const plot] coordinates {(1800,4.8e-5)(1812,5.5e-5)(1828,6.9e-5)(1834,3.6e-4)(1838,1.4e-4)(1842,3e-2)(1846,1e-2)(1850,4.8e-5)(1860,5.5e-5)(1870,2.6e-4)(1876,5.5e-5)(1882,7.8e-5)(1886,2.9e-4)(1890,1.4e-4)(1894,7.8e-5)(1900,5.5e-5)(1916,4.8e-5)(1932,1.4e-4)(1938,5.5e-5)(1952,4.8e-5)(1968,3.8e-5)(1984,3.4e-5)(1996,3e-5)(2006,1.4e-4)(2012,6.9e-5)(2016,3.4e-5)(2028,2.7e-5)(2040,2.1e-5)(2052,3.8e-5)(2056,1.9e-5)(2068,1.7e-5)(2080,1.3e-5)(2090,1.2e-5)(2094,2.7e-5)(2098,1e-5)(2108,8e-6)(2116,9e-3)(2120,6.4e-6)(2130,4.9e-6)(2144,1.1e-5)(2148,4.9e-6)(2160,4.5e-6)(2172,4e-6)(2184,4.5e-6)(2190,2.1e-5)(2194,8e-6)(2200,6.9e-2)(2208,3.4e-5)(2212,1.7e-6)(2224,1.5e-6)(2236,1.2e-6)(2248,1.3e-6)(2262,3.6e-6)(2268,8.7e-7)(2280,7.8e-7)(2290,3.6e-4)(2296,3.4e-5)(2300,7.4e-7)(2312,6e-7)(2324,7.4e-7)(2328,1.2e-6)(2336,3.6e-7)(2350,2.5e-7)(2360,2.2e-7)(2372,1.8e-7)(2384,2e-7)(2400,2e-7)(2410,1.8e-7)(2420,1.4e-7)(2428,9.9e-8)(2436,4.4e-8)(2440,1.7e-3)(2452,1e-8)(2460,1.3e-8)(2466,6.6e-9)(2472,8e-9)(2480,6.6e-7)(2484,1.4e-7)(2488,7.3e-9)(2496,6.6e-9)(2502,3.2e-7)(2508,4.8e-8)(2512,5.3e-9)(2520,8e-9)(2528,6.6e-9)(2536,6e-9)(2544,1.7e-8)(2550,6.6e-9)(2556,4e-9)(2568,4e-9)(2580,4.5e-9)(2588,2.4e-9)(2592,7.3e-9)(2596,4e-9)(2600,2.7e-9)(2604,1e-8)(2608,1.7e-9)(2620,2.4e-9)(2626,3.5e-9)(2634,2.4e-9)(2640,4.8e-9)(2648,1.2e-9)(2656,2.7e-8)(2664,2.4e-9)(2668,7.4e-10)(2676,5.3e-10)(2684,3.8e-10)(2688,1.7e-8)(2692,1.5e-6)(2696,3.6e-7)(2700,1.3e-8)(2704,8.4e-10)(2716,2.3e-8)(2720,4.8e-8)(2726,2e-7)(2732,1e-9)(2736,7.4e-10)(2744,1.7e-9)(2750,4.6e-10)(2756,9e-10)(2762,3.8e-10)(2766,1.4e-7)(2770,7.3e-9)(2774,6e-10)(2782,4.4e-8)(2786,4e-9)(2790,1.6e-9)(2796,8.4e-10)(2802,2.9e-10)(2808,1.3e-10)(2814,3.8e-10)(2820,7.4e-10)(2828,5.3e-10)(2834,6.1e-11)(2840,2e-10)(2846,1e-10)(2850,1.6e-10)(2856,2e-10)(2872,1.8e-10)(2880,3.1e-8)(2884,9e-9)(2888,8e-11)(2892,6e-10)(2898,4e-9)(2904,3.2e-10)(2910,9e-12)(2914,1e-10)(2920,2e-7)(2924,7.3e-9)(2930,2.9e-10)(2936,2e-10)(2942,8.4e-10)(2946,9.3e-11)(2952,4.7e-11)(2956,2.5e-11)(2960,6.5e-12)(2964,2.5e-11)(2968,1.3e-12)(2972,1.1e-9)(2976,1.4e-7)(2980,4.8e-9)(2984,1.1e-11)(2992,4.7e-11)(2996,2.3e-8)(3000,1.1e-8)(3004,9.4e-13)(3012,2.9e-10)(3016,1.8e-12)(3024,1e-13)(3032,1.5e-12)(3040,2.7e-12)(3044,8.8e-10)(3048,1.9e-8)(3052,2.8e-7)(3056,8.8e-10)(3060,1e-13)(3068,2e-12)(3072,1e-13)(3076,3.6e-10)(3080,1.1e-8)(3084,2.4e-9)(3088,1.8e-12)(3092,7.3e-11)(3096,1.9e-12)(3100,1e-13)(3116,3.2e-13)(3124,1e-13)(3136,1.4e-11)(3140,2e-10)(3144,3.2e-13)(3148,1e-13)(3156,1.6e-12)(3160,1e-13)(3180,8.8e-10)(3184,3.5e-10)(3188,1e-13)(3500,1e-13)};
\addlegendentry{$^{214}$Bi + $^{214}$Pb [\textsc{h}]}
% alpha model
\addplot[red, const plot, line width=0.4pt, dash pattern=on 2.5pt off 1pt on 0.6pt off 1pt] coordinates {(1800,2.5e-3)(1808,2.2e-3)(1816,2.4e-3)(1824,2.1e-3)(1832,2.3e-3)(1840,2.5e-3)(1848,2.2e-3)(1856,3e-3)(1864,2.6e-3)(1872,3e-3)(1880,2.7e-3)(1888,3.1e-3)(1896,2.8e-3)(1904,2.5e-3)(1912,2.9e-3)(1920,2.6e-3)(1928,2.8e-3)(1936,2.4e-3)(1944,2.7e-3)(1952,2.5e-3)(1960,2.8e-3)(1968,2.6e-3)(1976,2.9e-3)(1984,2.5e-3)(1992,2.7e-3)(2000,2.9e-3)(2008,2.6e-3)(2016,2.9e-3)(2024,2.5e-3)(2032,2.8e-3)(2040,2.6e-3)(2048,2.9e-3)(2056,2.5e-3)(2064,2.7e-3)(2072,2.4e-3)(2080,2.8e-3)(2088,2.6e-3)(2096,2.9e-3)(2104,2.7e-3)(2112,3e-3)(2120,2.6e-3)(2128,2.8e-3)(2136,2.5e-3)(2144,2.7e-3)(2152,2.9e-3)(2160,2.6e-3)(2168,2.8e-3)(2176,3e-3)(2184,2.7e-3)(2192,2.4e-3)(2200,2.9e-3)(2208,2.6e-3)(2216,2.8e-3)(2224,3e-3)(2232,2.7e-3)(2240,2.9e-3)(2248,3.1e-3)(2256,2.8e-3)(2264,3e-3)(2272,2.7e-3)(2280,3.1e-3)(2288,2.9e-3)(2296,3.2e-3)(2304,3e-3)(2312,3.3e-3)(2320,2.9e-3)(2328,3.2e-3)(2336,3.4e-3)(2344,3.1e-3)(2352,3.4e-3)(2360,3.2e-3)(2368,3.5e-3)(2376,3.3e-3)(2384,3.6e-3)(2392,3.2e-3)(2400,3.5e-3)(2416,3.3e-3)(2432,3.6e-3)(2448,3.4e-3)(2464,3.7e-3)(2480,3.5e-3)(2496,3.8e-3)(2512,3.6e-3)(2528,3.9e-3)(2544,3.7e-3)(2560,4e-3)(2576,3.8e-3)(2592,4.1e-3)(2608,3.9e-3)(2624,4.2e-3)(2640,3.9e-3)(2656,4.3e-3)(2672,4e-3)(2688,4.4e-3)(2704,4.1e-3)(2720,4.5e-3)(2736,4.2e-3)(2752,4.6e-3)(2768,4.3e-3)(2784,4.7e-3)(2800,4.4e-3)(2816,4.8e-3)(2832,4.5e-3)(2848,4.9e-3)(2864,4.6e-3)(2880,5e-3)(2896,4.7e-3)(2912,5.1e-3)(2928,4.8e-3)(2944,5.2e-3)(2960,4.9e-3)(2976,5.3e-3)(2992,5e-3)(3008,5.4e-3)(3024,5.1e-3)(3040,5.5e-3)(3056,5.2e-3)(3072,5.6e-3)(3088,5.3e-3)(3104,5.7e-3)(3120,5.4e-3)(3136,5.8e-3)(3152,5.5e-3)(3168,5.9e-3)(3184,5.6e-3)(3200,6e-3)(3232,6.2e-3)(3264,6e-3)(3296,6.3e-3)(3328,6.1e-3)(3360,6.4e-3)(3392,6.2e-3)(3424,6.5e-3)(3456,6.3e-3)(3488,6.5e-3)(3500,6.5e-3)};
\addlegendentry{$\alpha$-model}
% data
\addplot[only marks, mark=*, mark size=0.75pt, black] table[x=x,y=d]{\data};
\addlegendentry{Data}
% total
\addplot[red, const plot, line width=1.2pt] coordinates {(1800,0.2)(1804,0.18)(1812,0.16)(1820,0.14)(1830,0.18)(1836,0.47)(1842,1.0)(1848,0.66)(1852,0.2)(1856,0.16)(1860,0.13)(1864,0.18)(1868,0.12)(1872,0.18)(1876,0.14)(1880,0.1)(1888,0.13)(1896,0.087)(1900,0.12)(1904,0.18)(1908,0.13)(1912,0.37)(1916,0.72)(1924,0.14)(1928,0.1)(1936,0.09)(1944,0.08)(1952,0.062)(1960,0.08)(1968,0.07)(1976,0.09)(1984,0.07)(1992,0.08)(2000,0.06)(2004,0.1)(2012,0.075)(2020,0.09)(2028,0.06)(2036,0.07)(2044,0.05)(2052,0.07)(2056,0.09)(2060,0.06)(2064,0.05)(2072,0.06)(2080,0.045)(2088,0.05)(2096,0.06)(2100,0.18)(2104,0.08)(2108,0.05)(2112,0.05)(2116,0.47)(2120,0.1)(2124,0.065)(2132,0.05)(2140,0.06)(2148,0.045)(2156,0.04)(2164,0.07)(2168,0.045)(2176,0.05)(2184,0.06)(2192,0.055)(2196,0.06)(2200,1.95)(2208,0.045)(2212,0.035)(2220,0.04)(2228,0.038)(2236,0.045)(2244,0.04)(2252,0.038)(2260,0.042)(2268,0.036)(2276,0.033)(2284,0.04)(2288,0.088)(2296,0.045)(2304,0.038)(2312,0.033)(2320,0.04)(2328,0.035)(2336,0.038)(2344,0.04)(2352,0.033)(2360,0.038)(2368,0.035)(2376,0.036)(2384,0.035)(2392,0.028)(2400,0.03)(2408,0.034)(2420,0.11)(2426,0.16)(2430,0.019)(2440,0.125)(2452,0.027)(2456,0.019)(2464,0.025)(2472,0.022)(2476,0.03)(2480,0.025)(2488,0.028)(2496,0.02)(2504,0.12)(2510,0.025)(2516,0.018)(2524,0.02)(2532,0.017)(2540,0.02)(2548,0.017)(2556,0.019)(2564,0.016)(2572,0.019)(2580,0.018)(2588,0.016)(2596,0.015)(2600,0.0102)(2608,2.7)(2620,0.017)(2624,0.013)(2632,0.011)(2640,0.014)(2648,0.009)(2656,0.011)(2660,0.024)(2668,0.011)(2680,0.009)(2688,0.014)(2696,0.01)(2700,0.012)(2708,0.009)(2716,0.01)(2724,0.011)(2732,0.008)(2740,0.012)(2744,0.0075)(2752,0.009)(2760,0.008)(2768,0.019)(2772,0.009)(2780,0.011)(2788,0.008)(2796,0.01)(2804,0.008)(2812,0.007)(2820,0.009)(2828,0.008)(2836,0.009)(2844,0.0075)(2852,0.009)(2860,0.01)(2868,0.008)(2876,0.009)(2884,0.0146)(2896,0.008)(2904,0.006)(2912,0.008)(2916,0.012)(2924,0.007)(2932,0.006)(2940,0.008)(2948,0.007)(2956,0.006)(2960,0.008)(2968,0.009)(2976,0.007)(2984,0.008)(2992,0.006)(3000,0.007)(3008,0.0065)(3016,0.007)(3024,0.006)(3032,0.007)(3040,0.0065)(3048,0.006)(3056,0.0055)(3064,0.007)(3072,0.0065)(3080,0.0075)(3088,0.006)(3096,0.007)(3104,0.0065)(3112,0.007)(3120,0.011)(3128,0.006)(3136,0.0065)(3144,0.006)(3152,0.007)(3160,0.0065)(3168,0.006)(3176,0.007)(3184,0.006)(3188,0.0085)(3192,0.014)(3196,0.048)(3200,0.0075)(3204,0.007)(3212,0.0065)(3220,0.006)(3228,0.0065)(3236,0.006)(3244,0.0065)(3252,0.006)(3260,0.0068)(3268,0.006)(3276,0.0065)(3284,0.006)(3292,0.0068)(3300,0.006)(3308,0.0065)(3316,0.006)(3324,0.0068)(3332,0.0063)(3340,0.0065)(3348,0.0068)(3356,0.0063)(3364,0.0065)(3372,0.007)(3380,0.0065)(3388,0.0068)(3396,0.0065)(3404,0.0065)(3412,0.0068)(3420,0.0065)(3440,0.0078)(3448,0.0068)(3456,0.0066)(3464,0.0068)(3472,0.008)(3480,0.007)(3488,0.0068)(3496,0.007)(3500,0.007)};
\addlegendentry{Total}
\draw[gray!80, line width=0.5pt, pattern=densenw, pattern color=gray!70] (axis cs:2014,1e-13) rectangle (axis cs:2064,117);
\node[draw=black, line width=0.5pt, fill=white, font=\bfseries, inner xsep=5pt, inner ysep=4.5pt] at (axis cs:2300,1e-10) {COAX};
\end{axis}

\begin{axis}[
  at={(0,0)}, anchor=north west,
  width=597.6pt, height=78.4pt, scale only axis,
  xmin=1800, xmax=3500, ymin=-4.45, ymax=4.5,
  xtick={1800,1900,...,3500}, ytick={-4,-2,0,2,4},
  xticklabel style={/pgf/number format/1000 sep={}},
  xlabel={energy [keV]},
  xlabel style={at={(axis description cs:0.5,0)}, anchor=center, yshift=-21.1pt},
  ylabel={cts/bin},
  ylabel style={at={(axis description cs:-0.0514,0.5)}, anchor=center},
]
\addplot[fill=bandO, draw=none, const plot] table[x=x,y=ou]{\band} \closedcycle;
\addplot[fill=bandO, draw=none, const plot] table[x=x,y=ol]{\band} \closedcycle;
\addplot[fill=bandY, draw=none, const plot] table[x=x,y=yu]{\band} \closedcycle;
\addplot[fill=bandY, draw=none, const plot] table[x=x,y=yl]{\band} \closedcycle;
\addplot[fill=bandG, draw=none, const plot] table[x=x,y=gu]{\band} \closedcycle;
\addplot[fill=bandG, draw=none, const plot] table[x=x,y=gl]{\band} \closedcycle;
\addplot[only marks, mark=*, mark size=0.75pt, black] table[x=x,y=r]{\data};
\draw[gray!80, line width=0.5pt, pattern=densenw, pattern color=gray!70] (axis cs:2014,-4.45) rectangle (axis cs:2064,4.5);
\end{axis}
\node[rotate=-90] at (-69.6pt,12.4pt) {55};
\end{tikzpicture}
\end{document}
